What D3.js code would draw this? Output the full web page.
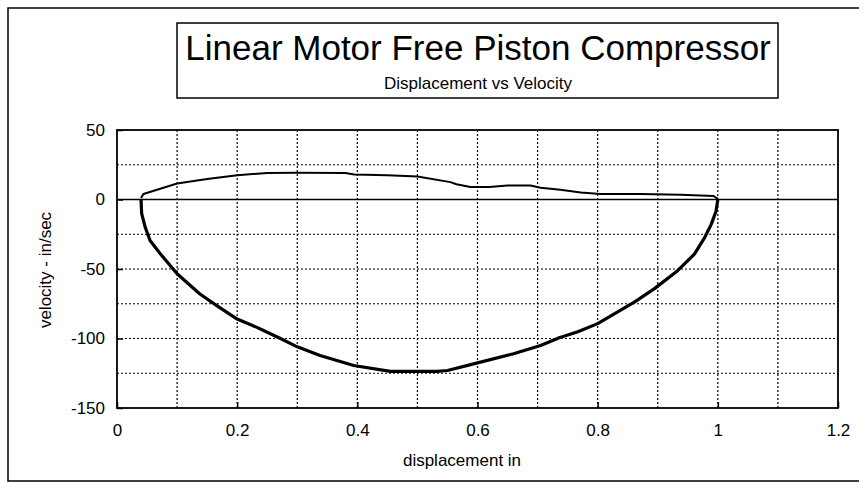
<!DOCTYPE html>
<html>
<head>
<meta charset="utf-8">
<script src="https://cdn.jsdelivr.net/npm/d3@7"></script>
<style>
  body { margin: 0; background: #fff; }
  text { font-family: "Liberation Sans", Arial, sans-serif; fill: #000; }
</style>
</head>
<body>
<div id="chart"></div>
<script>
// tick labels
const xTicks = [0, 0.2, 0.4, 0.6, 0.8, 1, 1.2];
const yTicks = [-150, -100, -50, 0, 50];

// lower branch (negative velocity)
const lowerDisp = [0.04, 0.041, 0.047, 0.055, 0.072, 0.1, 0.138, 0.166, 0.2, 0.233, 0.25, 0.272, 0.3, 0.338, 0.394, 0.455, 0.533, 0.55, 0.605, 0.66, 0.705, 0.736, 0.767, 0.8, 0.861, 0.894, 0.933, 0.961, 0.978, 0.989, 0.997, 1.0];
const lowerVel  = [0, -10, -20, -29.5, -39, -53.4, -68, -76.3, -86, -92, -95.5, -100, -106, -112.2, -119.4, -123.7, -123.7, -123, -117, -111, -105, -99.5, -95.2, -89.3, -73.8, -64.3, -51.2, -39.3, -27.4, -17.9, -8.4, 0];

// upper branch (positive velocity), from x=1 back to the start
const upperDisp = [1.0, 0.993, 0.938, 0.872, 0.805, 0.772, 0.738, 0.705, 0.688, 0.65, 0.62, 0.588, 0.565, 0.555, 0.5, 0.45, 0.395, 0.38, 0.3, 0.25, 0.2, 0.15, 0.1, 0.044, 0.04];
const upperVel  = [0.5, 2.5, 3.5, 4, 4, 5, 7, 8.5, 10, 10, 9, 9, 11, 12.5, 16.5, 17.5, 18, 19, 19.2, 19, 17.5, 14.8, 11.5, 4, 1];

const width = 859, height = 483;
const margin = {top: 130, right: 21, bottom: 75, left: 117};

const svg = d3.select("#chart").append("svg")
    .attr("width", width)
    .attr("height", height);

// outer frame
svg.append("rect")
    .attr("x", 8).attr("y", 8)
    .attr("width", 870).attr("height", 473)
    .attr("fill", "none").attr("stroke", "#000").attr("stroke-width", 1.5);

// title box
svg.append("rect")
    .attr("x", 177).attr("y", 23)
    .attr("width", 601).attr("height", 75)
    .attr("fill", "#fff").attr("stroke", "#000").attr("stroke-width", 1.5);

svg.append("text")
    .attr("x", 478).attr("y", 60)
    .attr("text-anchor", "middle")
    .style("font-size", "35px")
    .text("Linear Motor Free Piston Compressor");

svg.append("text")
    .attr("x", 478).attr("y", 89)
    .attr("text-anchor", "middle")
    .style("font-size", "17px")
    .text("Displacement vs Velocity");

const x = d3.scaleLinear()
    .domain([0, 1.2])
    .range([margin.left, width - margin.right]);
const y = d3.scaleLinear()
    .domain([-150, 50])
    .range([height - margin.bottom, margin.top]);

// dotted grid
const xGrid = d3.range(1, 12).map(i => i / 10);
const yGrid = d3.range(-125, 50, 25).filter(v => v !== 0);

svg.append("g")
    .selectAll("line")
    .data(xGrid)
    .join("line")
    .attr("x1", d => x(d)).attr("x2", d => x(d))
    .attr("y1", y(50)).attr("y2", y(-150))
    .attr("stroke", "#000").attr("stroke-width", 1.2)
    .attr("stroke-dasharray", "2,2");

svg.append("g")
    .selectAll("line")
    .data(yGrid)
    .join("line")
    .attr("x1", x(0)).attr("x2", x(1.2))
    .attr("y1", d => y(d)).attr("y2", d => y(d))
    .attr("stroke", "#000").attr("stroke-width", 1.2)
    .attr("stroke-dasharray", "2,2");

// zero line
svg.append("line")
    .attr("x1", x(0)).attr("x2", x(1.2))
    .attr("y1", y(0)).attr("y2", y(0))
    .attr("stroke", "#000").attr("stroke-width", 1.5);

// axes
svg.append("g")
    .attr("transform", `translate(0,${y(-150)})`)
    .call(d3.axisBottom(x).tickValues(xTicks).tickFormat(d => String(d)).tickSizeInner(-6).tickSizeOuter(0).tickPadding(16))
    .call(g => g.select(".domain").remove())
    .call(g => g.selectAll("line").attr("stroke-width", 1.5))
    .call(g => g.selectAll("text").style("font-size", "17px").attr("font-family", null));

svg.append("g")
    .attr("transform", `translate(${x(0)},0)`)
    .call(d3.axisLeft(y).tickValues(yTicks).tickFormat(d => String(d)).tickSizeInner(-6).tickSizeOuter(0).tickPadding(12))
    .call(g => g.select(".domain").remove())
    .call(g => g.selectAll("line").attr("stroke-width", 1.5))
    .call(g => g.selectAll("text").style("font-size", "17px").attr("font-family", null));

// plot frame
svg.append("rect")
    .attr("x", x(0)).attr("y", y(50))
    .attr("width", x(1.2) - x(0)).attr("height", y(-150) - y(50))
    .attr("fill", "none").attr("stroke", "#000").attr("stroke-width", 1.8);

// axis titles
svg.append("text")
    .attr("x", 462).attr("y", 466)
    .attr("text-anchor", "middle")
    .style("font-size", "17px")
    .text("displacement in");

svg.append("text")
    .attr("transform", `translate(51,270) rotate(-90)`)
    .attr("text-anchor", "middle")
    .style("font-size", "17px")
    .text("velocity - in/sec");

// loop
const line = d3.line()
    .x(d => x(d[0]))
    .y(d => y(d[1]));

svg.append("path")
    .datum(lowerDisp.map((d, i) => [d, lowerVel[i]]))
    .attr("fill", "none").attr("stroke", "#000")
    .attr("stroke-width", 3.2).attr("stroke-linejoin", "round")
    .attr("d", line);

svg.append("path")
    .datum(upperDisp.map((d, i) => [d, upperVel[i]]))
    .attr("fill", "none").attr("stroke", "#000")
    .attr("stroke-width", 2).attr("stroke-linejoin", "round")
    .attr("d", line);
</script>
</body>
</html>
